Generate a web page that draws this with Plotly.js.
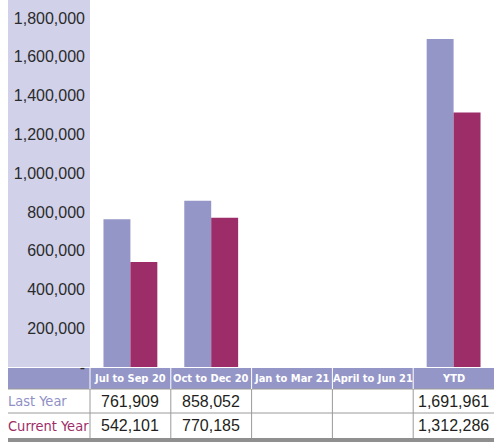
<!DOCTYPE html>
<html><head><meta charset="utf-8">
<script src="https://cdn.plot.ly/plotly-3.0.1.min.js"></script>
<style>html,body{margin:0;padding:0;background:#fff}#chart{width:494px;height:445px}</style>
</head><body><div id="chart"></div>
<script>
const categories = ["Jul to Sep 20", "Oct to Dec 20", "Jan to Mar 21", "April to Jun 21", "YTD"];
const lastYear = [761909, 858052, null, null, 1691961];
const currentYear = [542101, 770185, null, null, 1312286];
const seriesNames = ["Last Year", "Current Year"];
const tickVals = [0, 200000, 400000, 600000, 800000, 1000000, 1200000, 1400000, 1600000, 1800000];
const tickText = ["-", "200,000", "400,000", "600,000", "800,000", "1,000,000", "1,200,000", "1,400,000", "1,600,000", "1,800,000"];

const W = 494, H = 445, L = 90, PH = 367, PW = W - L;
const colLY = "#9596c8", colCY = "#9c2d68", panel = "#d1d1ea", grid = "#9a9a9a";
const condensed = "DejaVu Sans Condensed, Liberation Sans, Arial";
const px = p => (p - L) / PW;
const py = p => (PH - p) / PH;
const fmt = v => v == null ? "" : v.toLocaleString("en-US");

const traces = [
  {type: "bar", name: seriesNames[0], x: categories, y: lastYear, marker: {color: colLY}, hoverinfo: "skip"},
  {type: "bar", name: seriesNames[1], x: categories, y: currentYear, marker: {color: colCY}, hoverinfo: "skip"}
];

const shapes = [];
const ann = [];
shapes.push({type: "rect", xref: "paper", yref: "paper", x0: px(8), x1: 0, y0: 0, y1: 1, fillcolor: panel, line: {width: 0}, layer: "below"});
const hTop = 368, hBot = 389, r1 = 413, r2 = 438;
shapes.push({type: "rect", xref: "paper", yref: "paper", x0: px(8), x1: 1, y0: py(hBot), y1: py(hTop), fillcolor: "#9596c8", line: {width: 0}, layer: "below"});
[hBot, r1].forEach(y => shapes.push({type: "line", xref: "paper", yref: "paper", x0: px(8), x1: 1, y0: py(y), y1: py(y), line: {color: grid, width: 1}, layer: "below"}));
shapes.push({type: "rect", xref: "paper", yref: "paper", x0: px(8), x1: 1, y0: py(r2 + 4), y1: py(r2), fillcolor: "#8f8f8f", line: {width: 0}, layer: "below"});
shapes.push({type: "line", xref: "paper", yref: "paper", x0: 0, x1: 0, y0: py(hTop), y1: py(hBot), line: {color: "#ffffff", width: 1}, layer: "below"});
shapes.push({type: "line", xref: "paper", yref: "paper", x0: 0, x1: 0, y0: py(hBot), y1: py(r2), line: {color: grid, width: 1}, layer: "below"});
for (let i = 1; i < categories.length; i++) {
  shapes.push({type: "line", xref: "x", yref: "paper", x0: i - 0.5, x1: i - 0.5, y0: py(hTop), y1: py(hBot), line: {color: "#ffffff", width: 1}, layer: "below"});
  shapes.push({type: "line", xref: "x", yref: "paper", x0: i - 0.5, x1: i - 0.5, y0: py(hBot), y1: py(r2), line: {color: grid, width: 1}, layer: "below"});
}
categories.forEach((c, i) => {
  ann.push({xref: "x", yref: "paper", x: i, y: py((hTop + hBot) / 2), text: "<b>" + c + "</b>", showarrow: false, font: {family: condensed, size: 11, color: "#ffffff"}, xanchor: "center", yanchor: "middle"});
  ann.push({xref: "x", yref: "paper", x: i, y: py((hBot + r1) / 2), text: fmt(lastYear[i]), showarrow: false, font: {family: "Liberation Sans, Arial", size: 16, color: "#231f20"}, xanchor: "center", yanchor: "middle"});
  ann.push({xref: "x", yref: "paper", x: i, y: py((r1 + r2) / 2), text: fmt(currentYear[i]), showarrow: false, font: {family: "Liberation Sans, Arial", size: 16, color: "#231f20"}, xanchor: "center", yanchor: "middle"});
});
ann.push({xref: "paper", yref: "paper", x: px(6), y: py((hBot + r1) / 2), text: seriesNames[0], showarrow: false, font: {family: condensed, size: 14.5, color: "#9090c6"}, xanchor: "left", yanchor: "middle"});
ann.push({xref: "paper", yref: "paper", x: px(6), y: py((r1 + r2) / 2), text: seriesNames[1], showarrow: false, font: {family: condensed, size: 14.5, color: colCY}, xanchor: "left", yanchor: "middle"});

const layout = {
  width: W, height: H,
  margin: {l: L, r: 0, t: 0, b: H - PH, pad: 0},
  paper_bgcolor: "#ffffff", plot_bgcolor: "rgba(0,0,0,0)",
  showlegend: false, barmode: "group", bargap: 1/3, bargroupgap: 0,
  xaxis: {type: "category", range: [-0.5, 4.5], showticklabels: false, showgrid: false, zeroline: false, showline: false, ticks: ""},
  yaxis: {range: [0, 1893000], tickvals: tickVals, ticktext: tickText, showgrid: false, zeroline: false, showline: false, ticks: "", ticklabelstandoff: 4,
          tickfont: {family: "Liberation Sans, Arial", size: 16, color: "#2b2b2b"}},
  shapes: shapes, annotations: ann
};
Plotly.newPlot("chart", traces, layout, {staticPlot: true, displayModeBar: false});
</script></body></html>
